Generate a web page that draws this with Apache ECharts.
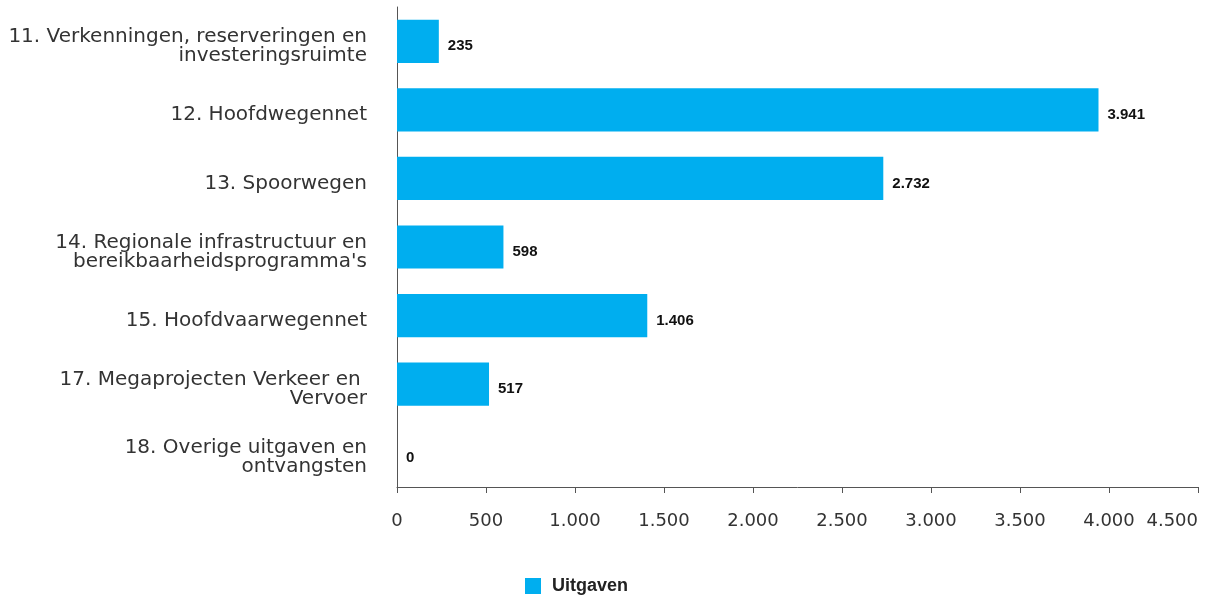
<!DOCTYPE html>
<html>
<head>
<meta charset="utf-8">
<script src="https://cdn.jsdelivr.net/npm/echarts@6/dist/echarts.min.js"></script>
<style>
html,body{margin:0;padding:0;background:#fff;}
#chart{width:1216px;height:596px;}
</style>
</head>
<body>
<div id="chart"></div>
<script>
const categories = [
  "11. Verkenningen, reserveringen en\ninvesteringsruimte",
  "12. Hoofdwegennet",
  "13. Spoorwegen",
  "14. Regionale infrastructuur en\nbereikbaarheidsprogramma's",
  "15. Hoofdvaarwegennet",
  "17. Megaprojecten Verkeer en \nVervoer",
  "18. Overige uitgaven en\nontvangsten"
];
const uitgaven = [235, 3941, 2732, 598, 1406, 517, 0];
const seriesName = "Uitgaven";

function fmt(v) {
  return String(Math.round(v)).replace(/\B(?=(\d{3})+(?!\d))/g, ".");
}

const chart = echarts.init(document.getElementById('chart'), null, {renderer: 'canvas'});
chart.setOption({
  animation: false,
  textStyle: {fontFamily: "DejaVu Sans, sans-serif"},
  grid: {left: 397, right: 18, top: 7, bottom: 109, containLabel: false},
  legend: {
    top: 577,
    left: 525,
    padding: 0,
    itemWidth: 16,
    itemHeight: 16,
    icon: 'rect',
    textStyle: {fontSize: 18, fontWeight: 'bold', color: '#222', fontFamily: "Liberation Sans, Arial, sans-serif", padding: [0, 0, 0, 6]},
    data: [seriesName]
  },
  xAxis: {
    type: 'value',
    min: 0,
    max: 4500,
    interval: 500,
    axisLine: {show: true, lineStyle: {color: '#555', width: 1}},
    axisTick: {show: true, length: 6, lineStyle: {color: '#555'}},
    splitLine: {show: false},
    axisLabel: {
      fontSize: 18,
      color: '#333',
      margin: 25,
      fontFamily: "DejaVu Sans, sans-serif",
      alignMaxLabel: 'right',
      formatter: v => fmt(v)
    }
  },
  yAxis: {
    type: 'category',
    data: categories,
    inverse: true,
    axisLine: {show: true, lineStyle: {color: '#555', width: 1}},
    axisTick: {show: false},
    axisLabel: {
      margin: 30,
      align: 'right',
      formatter: v => v.split('\n').map(l => '{a|' + l + '}').join('\n'),
      rich: {
        a: {fontSize: 20, color: '#333', lineHeight: 19, padding: [10, 0, 0, 0], fontFamily: "DejaVu Sans, sans-serif", align: 'right'}
      }
    }
  },
  series: [{
    name: seriesName,
    type: 'bar',
    data: uitgaven,
    barCategoryGap: '37%',
    itemStyle: {color: '#00AEEF'},
    label: {
      show: true,
      position: 'right',
      distance: 9,
      offset: [0, 5],
      fontSize: 15,
      fontWeight: 'bold',
      color: '#111',
      fontFamily: "Liberation Sans, Arial, sans-serif",
      formatter: p => fmt(p.value)
    }
  }]
});
</script>
</body>
</html>
